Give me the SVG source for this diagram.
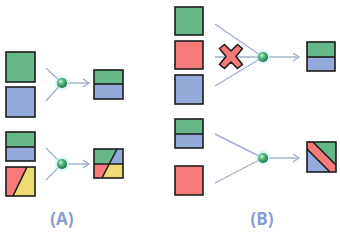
<svg xmlns="http://www.w3.org/2000/svg" width="340" height="234" viewBox="0 0 340 234">
<defs>
<radialGradient id="ball" cx="0.38" cy="0.35" r="0.7">
<stop offset="0" stop-color="#d8f3e0"/>
<stop offset="0.35" stop-color="#5fbf84"/>
<stop offset="1" stop-color="#1d6b45"/>
</radialGradient>
<radialGradient id="glow" cx="0.5" cy="0.5" r="0.5">
<stop offset="0.4" stop-color="#9fe0e6" stop-opacity="0.8"/>
<stop offset="1" stop-color="#c8f0f2" stop-opacity="0"/>
</radialGradient>
<marker id="arr" markerWidth="10" markerHeight="10" refX="8" refY="5" orient="auto" markerUnits="userSpaceOnUse">
<path d="M2,1 L8,5 L2,9" fill="none" stroke="#a3b0cc" stroke-width="1.4"/>
</marker>
</defs>
<style>
.g{fill:#66b88a}.b{fill:#93aadb}.r{fill:#f77a7a}.y{fill:#eddc72}
.o{fill:none;stroke:#1c1c1c;stroke-width:1.6}
.ln{fill:none;stroke:#a3b0cc;stroke-width:1.4}
.lbl{font-family:"Open Sans","Liberation Sans",sans-serif;font-weight:bold;font-size:17px;fill:#8c9bcf;text-anchor:middle}
</style>

<g id="connectors">
<path class="ln" d="M46,68 L62,83 M46,101 L62,83"/>
<path class="ln" d="M68,83 L89,83" marker-end="url(#arr)"/>
<path class="ln" d="M46,148 L62,164 M46,180 L62,164"/>
<path class="ln" d="M68,164 L89,164" marker-end="url(#arr)"/>
<path class="ln" d="M215,24 L263,57 M215,57 L263,57 M215,86 L263,57"/>
<path class="ln" d="M269,57 L299,57" marker-end="url(#arr)"/>
<path class="ln" d="M215,134 L263,158 M215,183 L263,158"/>
<path class="ln" d="M269,158 L299,158" marker-end="url(#arr)"/>
</g>

<g id="hubs">
<circle cx="62" cy="83" r="9" fill="url(#glow)"/><circle cx="62" cy="83" r="5" fill="url(#ball)"/>
<circle cx="62" cy="164" r="9" fill="url(#glow)"/><circle cx="62" cy="164" r="5" fill="url(#ball)"/>
<circle cx="263" cy="57" r="9" fill="url(#glow)"/><circle cx="263" cy="57" r="5" fill="url(#ball)"/>
<circle cx="263" cy="158" r="9" fill="url(#glow)"/><circle cx="263" cy="158" r="5" fill="url(#ball)"/>
</g>

<g id="a-green">
<rect class="g" x="6" y="52" width="29" height="30"/><rect class="o" x="6" y="52" width="29" height="30"/>
</g>
<g id="a-blue">
<rect class="b" x="6" y="87" width="29" height="30"/><rect class="o" x="6" y="87" width="29" height="30"/>
</g>
<g id="a-result1">
<rect class="g" x="94" y="70" width="29" height="14"/><rect class="b" x="94" y="84" width="29" height="15"/>
<path class="o" d="M94,84 H123"/><rect class="o" x="94" y="70" width="29" height="29"/>
</g>

<g id="a-greenblue">
<rect class="g" x="6" y="132" width="29" height="15"/><rect class="b" x="6" y="147" width="29" height="14"/>
<path class="o" d="M6,147 H35"/><rect class="o" x="6" y="132" width="29" height="29"/>
</g>
<g id="a-redyellow">
<polygon class="r" points="6,167 27,167 13,196 6,196"/><polygon class="y" points="27,167 35,167 35,196 13,196"/>
<path class="o" d="M27,167 L13,196"/><rect class="o" x="6" y="167" width="29" height="29"/>
</g>
<g id="a-result2">
<polygon class="g" points="94,149 117,149 110,164 94,164"/><polygon class="b" points="117,149 123,149 123,164 110,164"/>
<polygon class="r" points="94,164 110,164 102,178 94,178"/><polygon class="y" points="110,164 123,164 123,178 102,178"/>
<path class="o" d="M94,164 H123 M117,149 L102,178"/><rect class="o" x="94" y="149" width="29" height="29"/>
</g>

<g id="b-green">
<rect class="g" x="175" y="7" width="28" height="28"/><rect class="o" x="175" y="7" width="28" height="28"/>
</g>
<g id="b-red">
<rect class="r" x="175" y="41" width="28" height="28"/><rect class="o" x="175" y="41" width="28" height="28"/>
</g>
<g id="b-blue">
<rect class="b" x="175" y="75" width="28" height="29"/><rect class="o" x="175" y="75" width="28" height="29"/>
</g>
<g id="b-cross">
<polygon points="219.5,48.5 224.5,44.5 231,51 237.5,44.5 242.5,48.5 236,56.5 242.5,64.5 237.5,68.5 231,62 224.5,68.5 219.5,64.5 226,56.5" fill="#f47a7a" stroke="#1c1c1c" stroke-width="1.6" stroke-linejoin="round"/>
</g>
<g id="b-result1">
<rect class="g" x="307" y="42" width="28" height="15"/><rect class="b" x="307" y="57" width="28" height="14"/>
<path class="o" d="M307,57 H335"/><rect class="o" x="307" y="42" width="28" height="29"/>
</g>

<g id="b-greenblue">
<rect class="g" x="175" y="119" width="28" height="15"/><rect class="b" x="175" y="134" width="28" height="14"/>
<path class="o" d="M175,134 H203"/><rect class="o" x="175" y="119" width="28" height="29"/>
</g>
<g id="b-red2">
<rect class="r" x="175" y="166" width="28" height="29"/><rect class="o" x="175" y="166" width="28" height="29"/>
</g>
<g id="b-result2">
<rect class="r" x="307" y="142" width="29" height="30"/>
<polygon class="g" points="313,142 336,142 336,165"/>
<polygon class="b" points="307,149 307,172 330,172"/>
<path class="o" d="M313,142 L336,165 M307,149 L330,172"/>
<rect class="o" x="307" y="142" width="29" height="30"/>
</g>

<g id="labels">
<text class="lbl" x="62" y="225">(A)</text>
<text class="lbl" x="262" y="225">(B)</text>
</g>
</svg>
